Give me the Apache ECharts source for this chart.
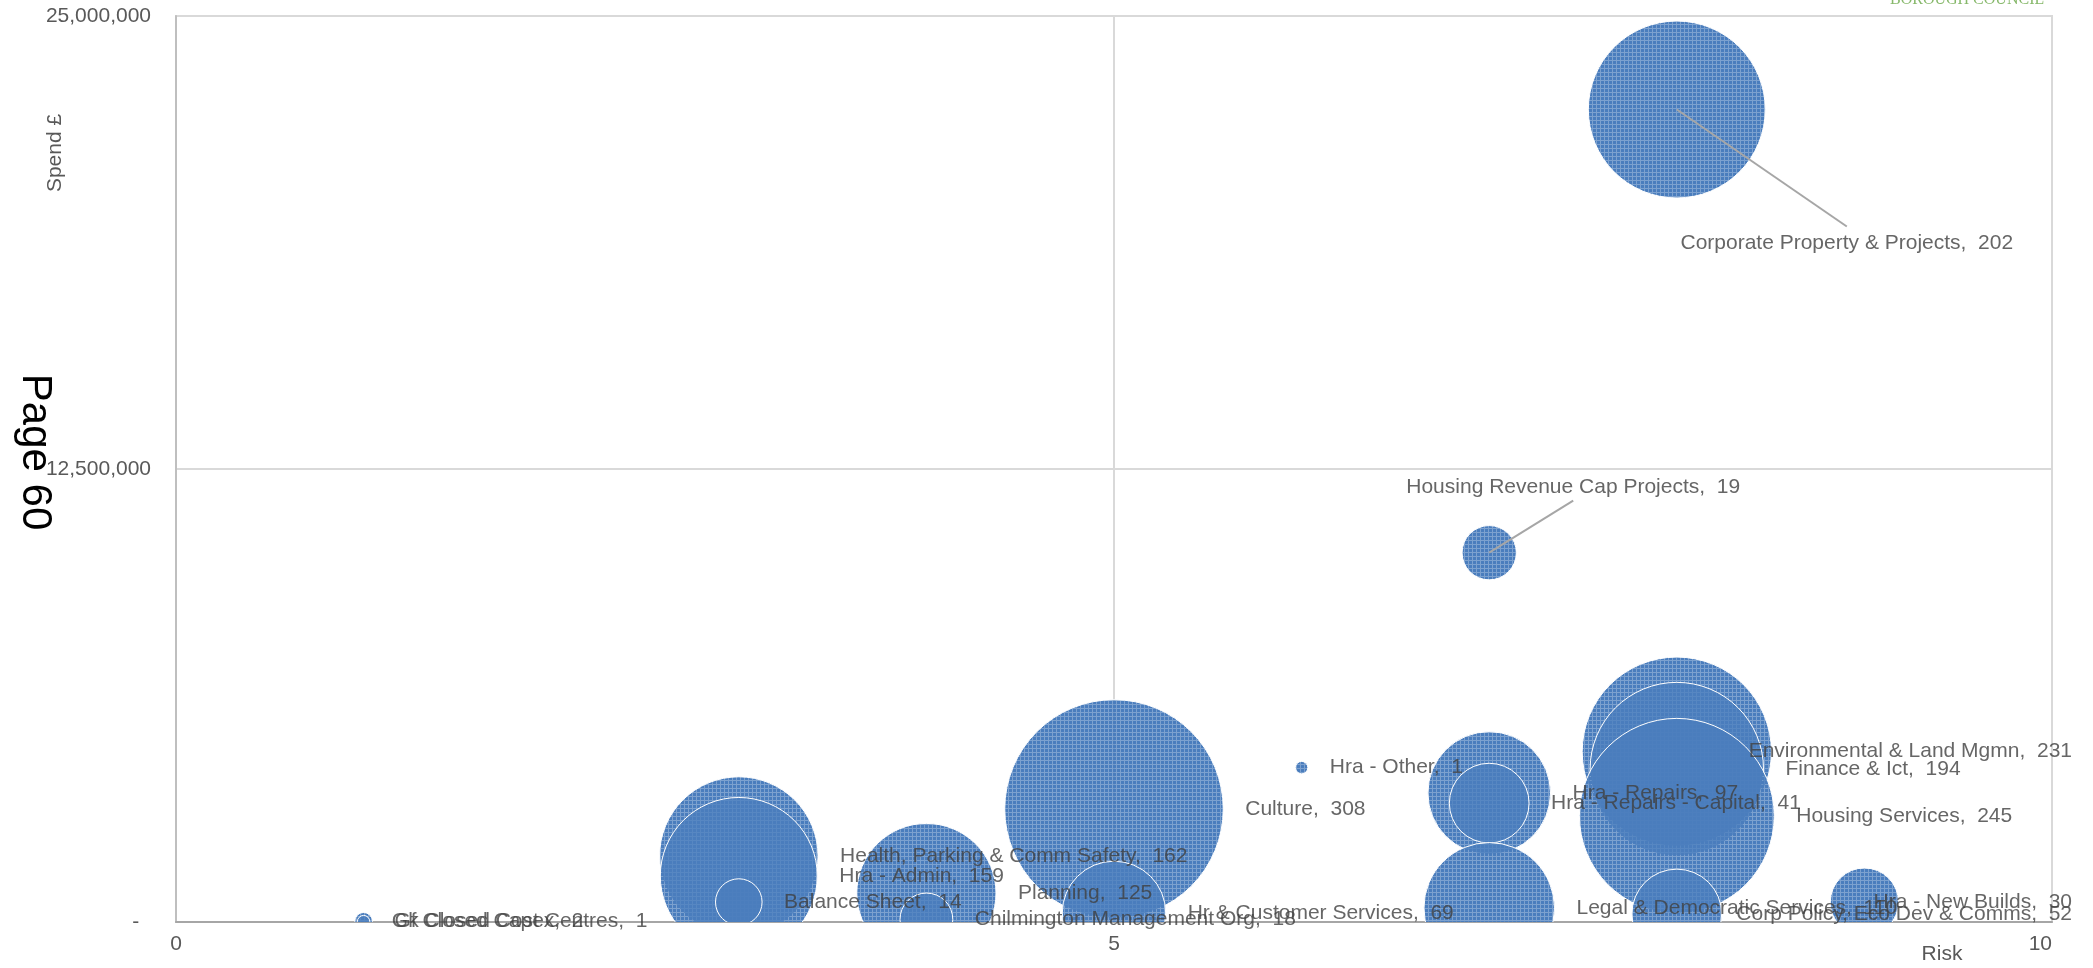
<!DOCTYPE html>
<html>
<head>
<meta charset="utf-8">
<title>Risk vs Spend by Service</title>
<script src="https://cdn.jsdelivr.net/npm/echarts@6/dist/echarts.min.js"></script>
<style>
  html, body { margin: 0; padding: 0; background: #ffffff; }
  #chart { width: 2093px; height: 968px; }
</style>
</head>
<body>
<div id="chart"></div>
<script>
// Service areas, ordered by spend (largest first) so smaller-spend bubbles sit on top.
const departments = [
  'Corporate Property & Projects',
  'Housing Revenue Cap Projects',
  'Environmental & Land Mgmn',
  'Hra - Other',
  'Finance & Ict',
  'Hra - Repairs',
  'Hra - Repairs - Capital',
  'Culture',
  'Housing Services',
  'Health, Parking & Comm Safety',
  'Hra - Admin',
  'Planning',
  'Balance Sheet',
  'Hra - New Builds',
  'Legal & Democratic Services',
  'Hr & Customer Services',
  'Corp Policy, Eco Dev & Comms',
  'Chilmington Management Org',
  'Gf Closed Capex',
  'Gk Closed Cost Centres'
];
// Risk score (x)
const riskScores = [8, 7, 8, 6, 8, 7, 7, 5, 8, 3, 3, 4, 3, 9, 7, 5, 8, 4, 1, 1];
// Spend in pounds (y)
const spendValues = [
  22420000, 10190000, 4700000, 4260000, 4220000, 3560000, 3280000, 3120000, 2930000,
  1820000, 1270000, 800000, 550000, 550000, 390000, 250000, 220000, 70000, 20000, 10000
];
// Number of items (bubble size)
const itemCounts = [202, 19, 231, 1, 194, 97, 41, 308, 245, 162, 159, 125, 14, 30, 110, 69, 52, 18, 2, 1];

// Axis ranges
const riskMax = 10, riskStep = 5;
const spendMax = 25000000, spendStep = 12500000;

// Labels pulled away from their bubble with a leader line: label centre and line end, relative to the bubble centre
const leaderLabels = {
  'Corporate Property & Projects': { offset: [170, 134], lineEnd: [170, 117] },
  'Housing Revenue Cap Projects': { offset: [84, -66], lineEnd: [84, -52] }
};

const FONT = "'Liberation Sans', Arial, sans-serif";
const LABEL_FONT = '21px ' + FONT;
const LABEL_GAP = 22;                 // gap between bubble edge and its label
const LABEL_EDGE = 21;                // labels stay this far inside the right edge of the chart
const BUBBLE_SCALE = 12.45;           // bubble diameter in px per sqrt(item count)
const diameter = n => BUBBLE_SCALE * Math.sqrt(n);

const points = departments.map((name, i) => [riskScores[i], spendValues[i], itemCounts[i]]);
const labelText = i => departments[i] + ',  ' + itemCounts[i];

// Fine cross-hatched blue fill
function hatchPattern() {
  const c = document.createElement('canvas');
  c.width = 4; c.height = 4;
  const g = c.getContext('2d');
  g.fillStyle = 'rgb(74,125,189)';
  g.fillRect(0, 0, 4, 4);
  g.clearRect(0, 0, 4, 1);
  g.clearRect(0, 1, 1, 3);
  g.fillStyle = 'rgba(74,125,189,0.72)';
  g.fillRect(0, 0, 4, 1);
  g.fillRect(0, 1, 1, 3);
  return c;
}
const hatch = hatchPattern();

const measureCtx = document.createElement('canvas').getContext('2d');
measureCtx.font = LABEL_FONT;

const chart = echarts.init(document.getElementById('chart'), null, { renderer: 'canvas' });

const option = {
  animation: false,
  backgroundColor: '#ffffff',
  grid: {
    left: 176, right: 41, top: 16, bottom: 46,
    show: true, borderColor: '#d9d9d9', borderWidth: 2, backgroundColor: 'transparent'
  },
  xAxis: {
    type: 'value', min: 0, max: riskMax, interval: riskStep,
    axisLine: { show: true, lineStyle: { color: '#a6a6a6', width: 2 } },
    axisTick: { show: false },
    splitLine: { show: true, lineStyle: { color: '#d9d9d9', width: 2 } },
    axisLabel: { color: '#595959', fontSize: 21, fontFamily: FONT, margin: 12, alignMaxLabel: 'right' }
  },
  yAxis: {
    type: 'value', min: 0, max: spendMax, interval: spendStep,
    axisLine: { show: true, lineStyle: { color: '#bfbfbf', width: 2 } },
    axisTick: { show: false },
    splitLine: { show: true, lineStyle: { color: '#d9d9d9', width: 2 } },
    axisLabel: {
      color: '#595959', fontSize: 21, fontFamily: FONT, margin: 25,
      formatter: v => v === 0 ? '-  ' : v.toLocaleString('en-GB')
    }
  },
  graphic: [
    {
      id: 'spendTitle', type: 'text', x: 55, y: 153, rotation: Math.PI / 2,
      style: { text: 'Spend £', fill: '#595959', font: '21px ' + FONT, align: 'center', verticalAlign: 'middle' }
    },
    {
      id: 'riskTitle', type: 'text', x: 1942, y: 954,
      style: { text: 'Risk', fill: '#595959', font: '21px ' + FONT, align: 'center', verticalAlign: 'middle' }
    },
    {
      id: 'pageNo', type: 'text', x: 35, y: 452, rotation: -Math.PI / 2,
      style: { text: 'Page 60', fill: '#000000', font: '42px ' + FONT, align: 'center', verticalAlign: 'middle' }
    },
    {
      id: 'council', type: 'text', x: 1890, y: 8,
      style: { text: 'BOROUGH COUNCIL', fill: '#86b86a', font: "16px 'Liberation Serif', 'DejaVu Serif', serif", align: 'left', verticalAlign: 'bottom' }
    }
  ],
  series: [
    {
      // Bubbles, clipped to the plot area
      type: 'custom',
      clip: true,
      z: 2,
      silent: true,
      dimensions: ['risk', 'spend', 'count'],
      encode: { x: 0, y: 1 },
      data: points,
      renderItem(params, api) {
        const c = api.coord([api.value(0), api.value(1)]);
        const r = diameter(api.value(2)) / 2;
        return {
          type: 'circle',
          shape: { cx: c[0], cy: c[1], r: r },
          style: { fill: { image: hatch, repeat: 'repeat' }, stroke: '#ffffff', lineWidth: 1 }
        };
      }
    },
    {
      // Data labels: "<service>,  <count>"
      id: 'labels',
      type: 'scatter',
      z: 3,
      silent: true,
      symbolSize: v => diameter(v[2]),
      itemStyle: { color: 'rgba(0,0,0,0)' },
      emphasis: { disabled: true },
      label: {
        show: true, position: 'right', distance: LABEL_GAP,
        color: '#404040', fontSize: 21, fontFamily: FONT,
        formatter: p => labelText(p.dataIndex)
      },
      data: points.map((p, i) => ({ name: departments[i], value: p }))
    }
  ]
};

chart.setOption(option);

// Place labels: leader-line labels go to their offset, others sit right of the bubble
// but are pulled back so they stay inside the chart's right edge.
const limit = chart.getWidth() - LABEL_EDGE;
const leaderLines = [];
const labelData = points.map((p, i) => {
  const size = diameter(itemCounts[i]);
  const c = chart.convertToPixel({ seriesIndex: 1 }, [riskScores[i], spendValues[i]]);
  const lead = leaderLabels[departments[i]];
  if (lead) {
    leaderLines.push({
      id: 'leader' + i, type: 'line', z: 10, silent: true,
      shape: { x1: c[0], y1: c[1], x2: c[0] + lead.lineEnd[0], y2: c[1] + lead.lineEnd[1] },
      style: { stroke: '#a6a6a6', lineWidth: 2 }
    });
    return {
      name: departments[i], value: p,
      label: { position: [size / 2 + lead.offset[0], size / 2 + lead.offset[1]], align: 'center', verticalAlign: 'middle' }
    };
  }
  const width = measureCtx.measureText(labelText(i)).width;
  const left = c[0] + size / 2 + LABEL_GAP;
  const shift = Math.min(0, limit - (left + width));
  return {
    name: departments[i], value: p,
    label: { position: [size + LABEL_GAP + shift, size / 2], align: 'left', verticalAlign: 'middle' }
  };
});

chart.setOption({ graphic: leaderLines, series: [{}, { id: 'labels', data: labelData }] });
</script>
</body>
</html>
